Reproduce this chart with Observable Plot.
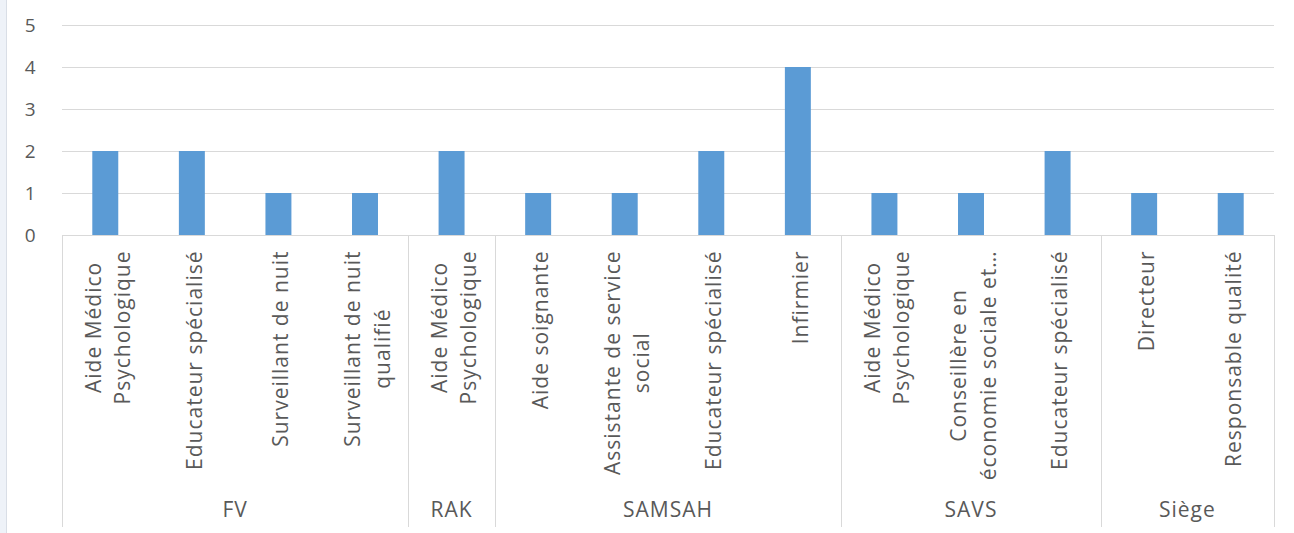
<!DOCTYPE html>
<html>
<head>
<meta charset="utf-8">
<script src="https://cdn.jsdelivr.net/npm/d3@7"></script>
<script src="https://cdn.jsdelivr.net/npm/@observablehq/plot@0.6"></script>
<style>
  html, body { margin: 0; padding: 0; background: #fff; }
  #wrap { position: relative; width: 1294px; height: 533px; overflow: hidden; }
  #edge { position: absolute; left: 0; top: 0; width: 6px; height: 533px; background: #eef2f8; border-right: 1px solid #d9dee6; }
  svg { font-family: "Open Sans", sans-serif; letter-spacing: 1px; }
</style>
</head>
<body>
<div id="wrap"></div>
<script>
const groups = ["FV","FV","FV","FV","RAK","SAMSAH","SAMSAH","SAMSAH","SAMSAH","SAVS","SAVS","SAVS","Siège","Siège"];
const labels = [
  "Aide Médico\nPsychologique",
  "Educateur spécialisé",
  "Surveillant de nuit",
  "Surveillant de nuit\nqualifié",
  "Aide Médico\nPsychologique",
  "Aide soignante",
  "Assistante de service\nsocial",
  "Educateur spécialisé",
  "Infirmier",
  "Aide Médico\nPsychologique",
  "Conseillère en\néconomie sociale et…",
  "Educateur spécialisé",
  "Directeur",
  "Responsable qualité"
];
const values = [2,2,1,1,2,1,1,2,4,1,1,2,1,1];
const yTicks = [0,1,2,3,4,5];

const data = labels.map((label, i) => ({key: groups[i] + "|" + i, group: groups[i], label, value: values[i]}));
const keys = data.map(d => d.key);
const textColor = "#595959";
const lineColor = "#d9d9d9";

function groupFrame(index, scales, values, dimensions) {
  const x = scales.x;
  const bw = typeof x.bandwidth === "function" ? x.bandwidth() : x.bandwidth;
  const step = typeof x.step === "function" ? x.step() : x.step;
  const gap = (step - bw) / 2;
  const {height, marginBottom} = dimensions;
  const y0 = height - marginBottom;
  const y1 = height - 6;
  const g = d3.create("svg:g");
  const spans = d3.groups(data, d => d.group);
  const bounds = new Set();
  for (const [name, items] of spans) {
    const start = x(items[0].key) - gap;
    const end = x(items[items.length - 1].key) + bw + gap;
    bounds.add(Math.round(start));
    bounds.add(Math.round(end));
    g.append("text")
      .attr("x", (start + end) / 2)
      .attr("y", height - 16)
      .attr("text-anchor", "middle")
      .attr("fill", textColor)
      .attr("font-size", 21)
      .text(name);
  }
  for (const b of bounds) {
    g.append("line")
      .attr("x1", b + 0.5).attr("x2", b + 0.5)
      .attr("y1", y0).attr("y2", y1)
      .attr("stroke", lineColor);
  }
  return g.node();
}

const chart = Plot.plot({
  width: 1294,
  height: 533,
  marginLeft: 62,
  marginRight: 20,
  marginTop: 25,
  marginBottom: 298,
  style: {background: "#fff", fontFamily: "'Open Sans', sans-serif"},
  x: {domain: keys, paddingInner: 0.7, paddingOuter: 0.35, round: false, axis: null},
  y: {domain: [0, 5], ticks: yTicks},
  marks: [
    Plot.gridY(yTicks, {stroke: lineColor, strokeOpacity: 1}),
    Plot.axisY(yTicks, {tickSize: 0, tickPadding: 26, fontSize: 19, fill: textColor, label: null}),
    Plot.barY(data, {x: "key", y: "value", fill: "#5b9bd5"}),
    Plot.text(data, {
      x: "key", text: "label", frameAnchor: "bottom", dy: 15,
      rotate: -90, textAnchor: "middle", lineAnchor: "middle", lineHeight: 1.4,
      fontSize: 21, fill: textColor, className: "cat-labels"
    }),
    groupFrame
  ]
});

document.getElementById("wrap").append(chart);
const edge = document.createElement("div");
edge.id = "edge";
document.getElementById("wrap").append(edge);

// center multi-line rotated labels on their longest line (block top-aligned)
chart.querySelectorAll(".cat-labels text").forEach(t => {
  const spans = t.querySelectorAll("tspan");
  let L = 0;
  if (spans.length) spans.forEach(s => { L = Math.max(L, s.getComputedTextLength()); });
  else L = t.getComputedTextLength();
  const tr = t.getAttribute("transform") || "";
  t.setAttribute("transform", tr + ` translate(${-L / 2},0)`);
});
</script>
</body>
</html>
